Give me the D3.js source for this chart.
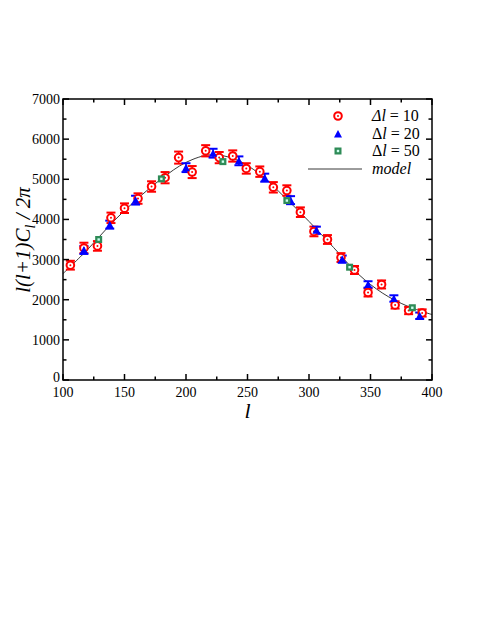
<!DOCTYPE html>
<html><head><meta charset="utf-8">
<script src="https://cdn.jsdelivr.net/npm/d3@7"></script>
<style>body{margin:0;background:#fff} text{font-family:"Liberation Serif","Times New Roman",Times,"DejaVu Serif",serif !important}</style>
</head><body>
<svg id="c" width="491" height="635"></svg>
<script>
// Δl = 10 series
const l10 = [106,117,128,139,150,161,172,183,194,205,216,227,238,249,260,271,282,293,304,315,326,337,348,359,370,381,392];
const v10 = [2860,3290,3340,4040,4280,4520,4820,5040,5540,5180,5710,5540,5580,5270,5190,4800,4720,4180,3700,3500,3050,2740,2180,2380,1870,1730,1670];
const e10 = [110,130,120,130,120,130,130,140,150,150,140,140,140,130,130,130,130,120,120,110,110,100,100,100,90,90,90];
// Δl = 20 series
const l20 = [117,138,159,200,222,243,264,285,306,327,348,369,390];
const v20 = [3240,3870,4480,5290,5650,5460,5040,4480,3730,3010,2380,2030,1600];
const e20 = [100,100,110,110,110,110,100,100,90,90,80,80,80];
// Δl = 50 series
const l50 = [129,180,230,282,333,384];
const v50 = [3500,5010,5440,4470,2810,1800];
// model curve
const lModel = [100,120,140,160,180,200,220,240,260,280,300,320,340,360,380,400];
const vModel = [2650,3250,3920,4500,5010,5420,5610,5500,5130,4560,3950,3300,2640,2160,1840,1630];
const xTicks = [100,150,200,250,300,350,400];
const yTicks = [0,1000,2000,3000,4000,5000,6000,7000];

const svg = d3.select("#c");
const L=63,R=432,T=99,B=380;
const x = d3.scaleLinear().domain([100,400]).range([L,R]);
const y = d3.scaleLinear().domain([0,7000]).range([B,T]);
const g = svg.append("g");

// model
g.append("path").datum(lModel.map((d,i)=>[d,vModel[i]]))
 .attr("d", d3.line().x(d=>x(d[0])).y(d=>y(d[1])).curve(d3.curveCatmullRom.alpha(0.5)))
 .attr("fill","none").attr("stroke","#222").attr("stroke-width",0.9);

function ebars(ls,vs,es,color){
  ls.forEach((l,i)=>{
    const cx=x(l), y1=y(vs[i]+es[i]), y2=y(vs[i]-es[i]);
    g.append("line").attr("x1",cx).attr("x2",cx).attr("y1",y1).attr("y2",y2).attr("stroke",color).attr("stroke-width",1.5);
    [y1,y2].forEach(yy=>g.append("line").attr("x1",cx-4.5).attr("x2",cx+4.5).attr("y1",yy).attr("y2",yy).attr("stroke",color).attr("stroke-width",2));
  });
}
ebars(l10,v10,e10,"#f00");
ebars(l20,v20,e20,"#00f");

function circ(cx,cy){
  g.append("circle").attr("cx",cx).attr("cy",cy).attr("r",3.8).attr("fill","#fff").attr("stroke","#f00").attr("stroke-width",2);
  g.append("circle").attr("cx",cx).attr("cy",cy).attr("r",1).attr("fill","#f00");
}
function tri(cx,cy){
  g.append("path").attr("d",`M${cx},${cy-4}L${cx+4},${cy+3.5}L${cx-4},${cy+3.5}Z`).attr("fill","#00f");
}
function sq(cx,cy){
  g.append("rect").attr("x",cx-3.5).attr("y",cy-3.5).attr("width",7).attr("height",7).attr("fill","#2e8b57");
  g.append("rect").attr("x",cx-1.2).attr("y",cy-1.2).attr("width",2.4).attr("height",2.4).attr("fill","#cfe");
}
l10.forEach((l,i)=>circ(x(l),y(v10[i])));
l20.forEach((l,i)=>tri(x(l),y(v20[i])));
l50.forEach((l,i)=>sq(x(l),y(v50[i])));

// axes frame
const ax = svg.append("g").attr("stroke","#000").attr("stroke-width",1.5);
ax.append("rect").attr("x",L).attr("y",T).attr("width",R-L).attr("height",B-T).attr("fill","none");
const xMinor = d3.range(125,400,50), yMinor = d3.range(500,7000,1000);
xTicks.forEach(t=>{ax.append("line").attr("x1",x(t)).attr("x2",x(t)).attr("y1",B).attr("y2",B-6);
  ax.append("line").attr("x1",x(t)).attr("x2",x(t)).attr("y1",T).attr("y2",T+6);});
xMinor.forEach(t=>{ax.append("line").attr("x1",x(t)).attr("x2",x(t)).attr("y1",B).attr("y2",B-3.5);
  ax.append("line").attr("x1",x(t)).attr("x2",x(t)).attr("y1",T).attr("y2",T+3.5);});
yTicks.forEach(t=>{ax.append("line").attr("x1",L).attr("x2",L+6).attr("y1",y(t)).attr("y2",y(t));
  ax.append("line").attr("x1",R).attr("x2",R-6).attr("y1",y(t)).attr("y2",y(t));});
yMinor.forEach(t=>{ax.append("line").attr("x1",L).attr("x2",L+3.5).attr("y1",y(t)).attr("y2",y(t));
  ax.append("line").attr("x1",R).attr("x2",R-3.5).attr("y1",y(t)).attr("y2",y(t));});

xTicks.forEach(t=>svg.append("text").attr("x",x(t)).attr("y",B+17).attr("text-anchor","middle").attr("font-size",14).text(t));
yTicks.forEach(t=>svg.append("text").attr("x",L-3).attr("y",y(t)+(t===0?2:5)).attr("text-anchor","end").attr("font-size",14).text(t));

svg.append("text").attr("x",(L+R)/2).attr("y",418).attr("text-anchor","middle").attr("font-size",22).attr("font-style","italic").text("l");
const yl = svg.append("text").attr("transform","translate(30,240) rotate(-90)").attr("text-anchor","middle").attr("font-size",21).attr("font-style","italic");
yl.append("tspan").text("l(l+1)C");
yl.append("tspan").attr("font-size",14).attr("dy",5).text("l");
yl.append("tspan").attr("dy",-5).text(" / 2π");

// legend
const lg = svg.append("g");
circ(338,116); tri(338,134); sq(338,151);
function legText(yy,parts){
  const t=lg.append("text").attr("x",372).attr("y",yy+5).attr("font-size",16);
  parts.forEach(p=>t.append("tspan").attr("font-style",p[1]?"italic":"normal").text(p[0]));
}
legText(116,[["Δl",true],[" = 10",false]]);
legText(134,[["Δ",false],["l",true],[" = 20",false]]);
legText(151,[["Δ",false],["l",true],[" = 50",false]]);
lg.append("line").attr("x1",308).attr("x2",362).attr("y1",169).attr("y2",169).attr("stroke","#222").attr("stroke-width",0.9);
legText(169,[["model",true]]);
</script>
</body></html>
